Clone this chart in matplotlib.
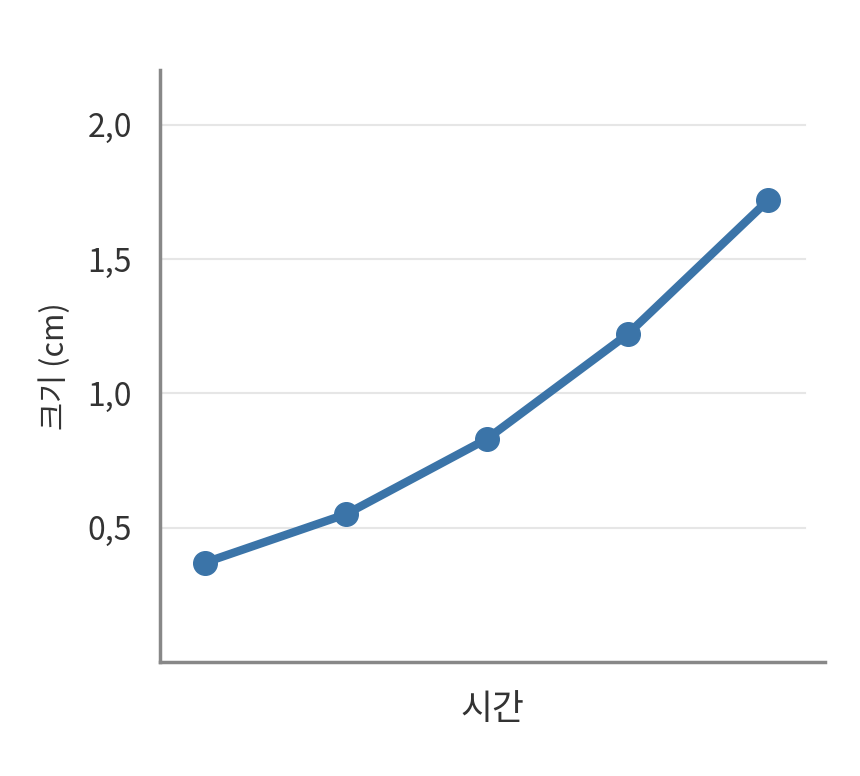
import matplotlib.pyplot as plt

plt.rcParams['font.family'] = ['Noto Sans CJK KR', 'DejaVu Sans']

# Data
time_idx = [0, 1, 2, 3, 4]
size_cm = [0.37, 0.55, 0.83, 1.22, 1.72]
yticks = [0.5, 1.0, 1.5, 2.0]
ytick_labels = ["0,5", "1,0", "1,5", "2,0"]

fig = plt.figure(figsize=(8.6, 7.76), dpi=100)
ax = fig.add_axes([0.186, 0.147, 0.773, 0.763])

for t in yticks:
    ax.plot([-0.32, 4.26], [t, t], color="#e6e6e6", lw=1.5, zorder=1)

ax.plot(time_idx, size_cm, color="#3b74a8", lw=6, marker="o", ms=17,
        solid_capstyle="round", zorder=3)

ax.set_xlim(-0.32, 4.4)
ax.set_ylim(0, 2.205)
ax.set_yticks(yticks)
ax.set_yticklabels(ytick_labels, fontsize=23, color="#333333")
ax.set_xticks([])
ax.tick_params(axis="y", length=0, pad=20)

for s in ["top", "right"]:
    ax.spines[s].set_visible(False)
for s in ["left", "bottom"]:
    ax.spines[s].set_color("#888888")
    ax.spines[s].set_linewidth(2.5)

ax.set_xlabel("시간", fontsize=25, color="#333333", labelpad=22)
ax.set_ylabel("크기 (cm)", fontsize=22, color="#333333", labelpad=12)

fig.savefig("out.png", dpi=100, facecolor="white")
